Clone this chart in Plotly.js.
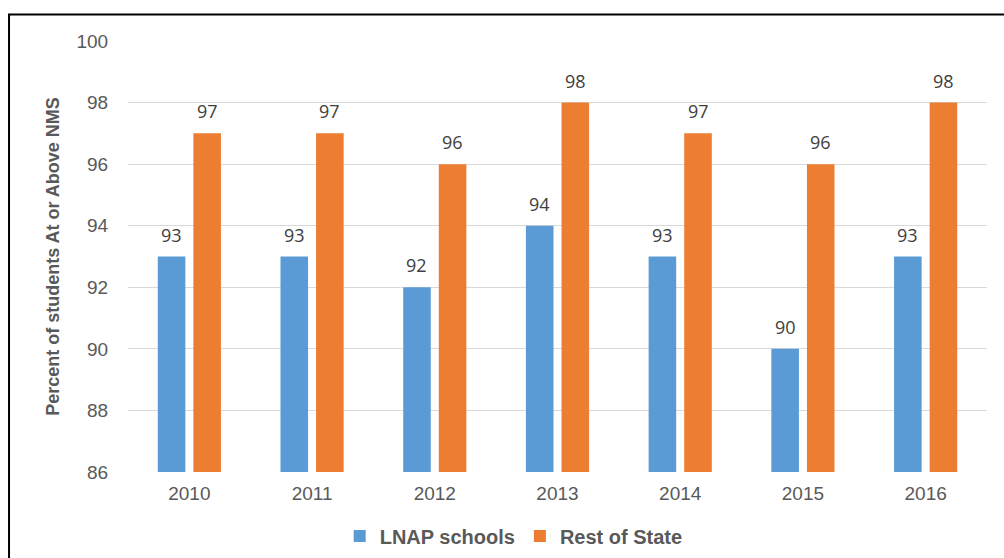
<!DOCTYPE html>
<html>
<head>
<meta charset="utf-8">
<script src="https://cdn.plot.ly/plotly-3.0.1.min.js"></script>
<style>
  html, body { margin: 0; padding: 0; background: #fff; }
  #chart { width: 1004px; height: 558px; }
</style>
</head>
<body>
<div id="chart"></div>
<script>
// Share of students at or above NMS, by year
const years = ['2010', '2011', '2012', '2013', '2014', '2015', '2016'];
const lnapSchools = [93, 93, 92, 94, 93, 90, 93];
const restOfState = [97, 97, 96, 98, 97, 96, 98];
const seriesNames = ['LNAP schools', 'Rest of State'];
const yTicks = [86, 88, 90, 92, 94, 96, 98, 100];

const BLUE = '#5B9BD5';
const ORANGE = '#ED7D31';
const LABEL_SHIFT = 17.8; // px offset of each bar from its category centre

const traces = [
  { type: 'bar', name: seriesNames[0], x: years, y: lnapSchools,
    marker: { color: BLUE }, hoverinfo: 'y' },
  { type: 'bar', name: seriesNames[1], x: years, y: restOfState,
    marker: { color: ORANGE }, hoverinfo: 'y' }
];

// Value labels floating above each bar (x given as category index)
const annotations = [];
[lnapSchools, restOfState].forEach((vals, s) => {
  vals.forEach((v, i) => {
    annotations.push({
      x: i, y: v, xref: 'x', yref: 'y',
      text: String(v), showarrow: false,
      xanchor: 'center', yanchor: 'middle',
      xshift: s === 0 ? -LABEL_SHIFT : LABEL_SHIFT,
      yshift: 22,
      font: { family: '"Open Sans", sans-serif', size: 18, color: '#404040' }
    });
  });
});

const layout = {
  width: 1004, height: 558,
  margin: { l: 128, r: 17, t: 41, b: 86, autoexpand: false },
  paper_bgcolor: '#ffffff', plot_bgcolor: '#ffffff',
  barmode: 'group', bargap: 0.42, bargroupgap: 0.225,
  font: { family: '"Liberation Sans", Arial, sans-serif', color: '#595959' },
  xaxis: {
    type: 'category', range: [-0.5, years.length - 0.5], automargin: false,
    showgrid: false, zeroline: false, showline: false,
    ticks: 'outside', ticklen: 4, tickcolor: 'rgba(0,0,0,0)',
    tickfont: { size: 19, color: '#595959' }
  },
  yaxis: {
    range: [86, 100], tickvals: yTicks, automargin: false,
    showgrid: true, gridcolor: '#d9d9d9', gridwidth: 1,
    zeroline: false, showline: false,
    ticks: 'outside', ticklen: 15, tickcolor: 'rgba(0,0,0,0)',
    tickfont: { size: 19, color: '#595959' },
    title: { text: 'Percent of students At or Above NMS', standoff: 12,
             font: { size: 18, color: '#595959', family: '"Liberation Sans", Arial, sans-serif', weight: 'bold' } }
  },
  legend: {
    orientation: 'h', xref: 'paper', x: 0.449, xanchor: 'center',
    yref: 'container', y: 0.0394, yanchor: 'middle',
    font: { size: 20, color: '#595959', weight: 'bold' },
    itemwidth: 30, traceorder: 'normal'
  },
  annotations: annotations,
  shapes: [{
    type: 'rect', xref: 'paper', yref: 'paper',
    x0: -0.1385, x1: 1.2, y0: -0.5, y1: 1.0615,
    line: { color: '#000000', width: 2 }, fillcolor: 'rgba(0,0,0,0)', layer: 'above'
  }],
  showlegend: true
};

Plotly.newPlot('chart', traces, layout, { displayModeBar: false, staticPlot: true });
</script>
</body>
</html>
